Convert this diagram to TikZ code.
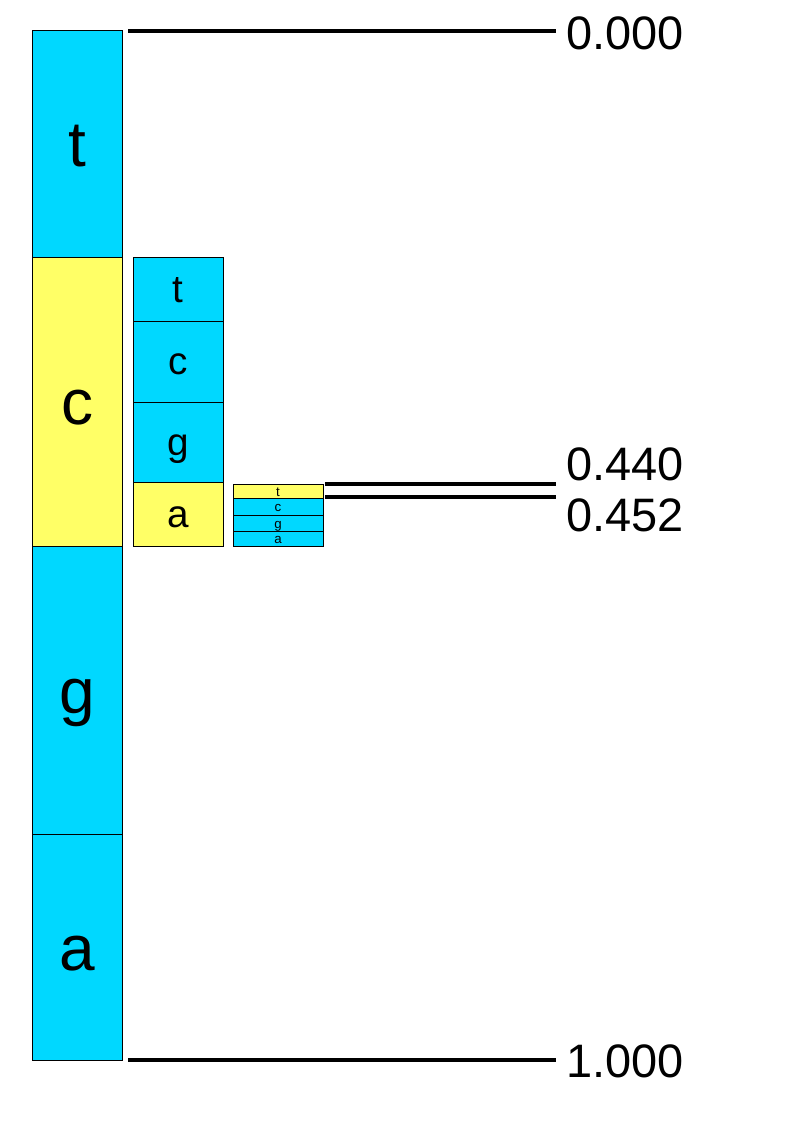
\documentclass[tikz,border=0pt]{standalone}
\usepackage{fontspec}
\setmainfont{Liberation Sans}
\definecolor{cyanbox}{HTML}{00D8FF}
\definecolor{yellowbox}{HTML}{FFFF66}
\begin{document}
\begin{tikzpicture}[x=0.75pt,y=-0.75pt,
  box/.style={draw=black,line width=0.75pt,inner sep=0pt,outer sep=0pt,minimum width=67.5pt,text depth=0pt},
  bigtxt/.style={font=\fontsize{48}{52}\selectfont,text height=34.5pt},
  midtxt/.style={font=\fontsize{29}{33}\selectfont,text height=19.5pt},
  smalltxt/.style={font=\fontsize{10}{11}\selectfont,text height=8pt},
  numtxt/.style={font=\fontsize{35.2}{38}\selectfont,anchor=west,inner sep=0pt},
  scale line/.style={line width=2.4pt}]
\useasboundingbox (0,0) rectangle (794,1123);
% column 1
\node[box,fill=cyanbox,minimum height=169.5pt,bigtxt] (c1t) at (77,144) {t};
\node[box,fill=yellowbox,minimum height=216.75pt,bigtxt] (c1c) at (77,401.5) {c};
\node[box,fill=cyanbox,minimum height=216pt,bigtxt] (c1g) at (77,690) {g};
\node[box,fill=cyanbox,minimum height=169.5pt,bigtxt] (c1a) at (77,947) {a};
% column 2
\node[box,fill=cyanbox,minimum height=48pt,midtxt] (c2t) at (178,289) {t};
\node[box,fill=cyanbox,minimum height=60.75pt,midtxt] (c2c) at (178,361.5) {c};
\node[box,fill=cyanbox,minimum height=60pt,midtxt] (c2g) at (178,442) {g};
\node[box,fill=yellowbox,minimum height=48pt,midtxt] (c2a) at (178,514) {a};
% column 3
\node[box,fill=yellowbox,minimum height=10.5pt,smalltxt] (c3t) at (278,491) {t};
\node[box,fill=cyanbox,minimum height=12.75pt,smalltxt] (c3c) at (278,506.5) {c};
\node[box,fill=cyanbox,minimum height=12pt,smalltxt] (c3g) at (278,523) {g};
\node[box,fill=cyanbox,minimum height=11.25pt,smalltxt] (c3a) at (278,538.5) {a};
% scale lines
\coordinate (l0a) at (128,31);   \coordinate (l0b) at (556,31);
\coordinate (l1a) at (128,1060); \coordinate (l1b) at (556,1060);
\coordinate (l2a) at (325,484);  \coordinate (l2b) at (556,484);
\coordinate (l3a) at (325,497);  \coordinate (l3b) at (556,497);
\draw[scale line] (l0a) -- (l0b);
\draw[scale line] (l1a) -- (l1b);
\draw[scale line] (l2a) -- (l2b);
\draw[scale line] (l3a) -- (l3b);
% labels
\node[numtxt] (n0) at (566,33) {0.000};
\node[numtxt] (n1) at (566,1061) {1.000};
\node[numtxt] (n2) at (566,464) {0.440};
\node[numtxt] (n3) at (566,515) {0.452};
\end{tikzpicture}
\end{document}
